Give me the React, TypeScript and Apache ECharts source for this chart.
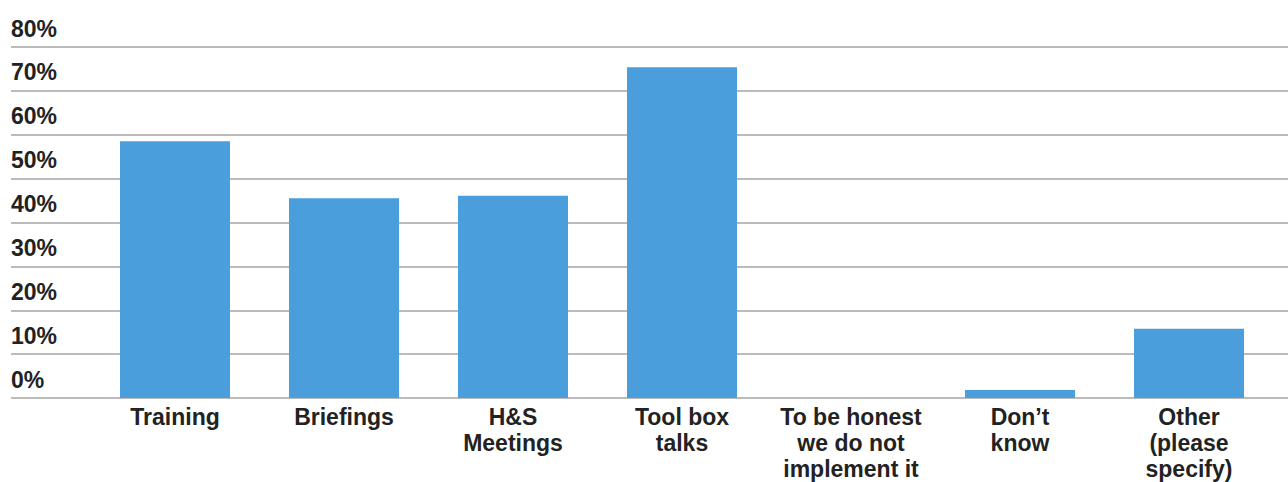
import React, { useEffect, useRef } from "react";
import * as echarts from "echarts";

const categories = [
  "Training",
  "Briefings",
  "H&S\nMeetings",
  "Tool box\ntalks",
  "To be honest\nwe do not\nimplement it",
  "Don\u2019t\nknow",
  "Other\n(please\nspecify)",
];
const values = [58.5, 45.5, 46.1, 75.4, 0, 1.8, 15.8];
const yMin = 0;
const yMax = 80;
const yInterval = 10;

export default function App() {
  const ref = useRef<HTMLDivElement>(null);
  useEffect(() => {
    if (!ref.current) return;
    const chart = echarts.init(ref.current, undefined, { renderer: "svg" });
    const font = "'Liberation Sans', Arial, Helvetica, sans-serif";
    chart.setOption({
      animation: false,
      backgroundColor: "#ffffff",
      grid: [
        { left: 11, right: 0, top: 47, bottom: 84 },
        { left: 90.5, width: 1183, top: 47, bottom: 84 },
      ],
      xAxis: [
        { type: "value", gridIndex: 0, show: false, min: 0, max: 1 },
        {
          type: "category",
          gridIndex: 1,
          data: categories,
          axisLine: { show: false },
          axisTick: { show: false },
          axisLabel: {
            interval: 0,
            margin: 6,
            fontFamily: font,
            fontWeight: "bold",
            fontSize: 23,
            lineHeight: 26,
            color: "#222222",
          },
        },
      ],
      yAxis: [
        {
          type: "value",
          gridIndex: 0,
          min: yMin,
          max: yMax,
          interval: yInterval,
          axisLine: { show: false },
          axisTick: { show: false },
          splitLine: { show: true, lineStyle: { color: "#a4a4a4", width: 1.5 } },
          axisLabel: {
            inside: true,
            margin: 0,
            align: "left",
            verticalAlign: "bottom",
            padding: [0, 0, 7, 0],
            formatter: "{value}%",
            fontFamily: font,
            fontWeight: "bold",
            fontSize: 23,
            color: "#222222",
          },
        },
        {
          type: "value",
          gridIndex: 1,
          min: yMin,
          max: yMax,
          interval: yInterval,
          show: false,
          splitLine: { show: false },
        },
      ],
      series: [
        {
          type: "bar",
          xAxisIndex: 1,
          yAxisIndex: 1,
          data: values,
          barWidth: 110,
          itemStyle: { color: "#4a9edc" },
        },
      ],
    });
    return () => chart.dispose();
  }, []);
  return <div ref={ref} style={{ width: 1288, height: 482, position: "absolute", left: 0, top: 0 }} />;
}
